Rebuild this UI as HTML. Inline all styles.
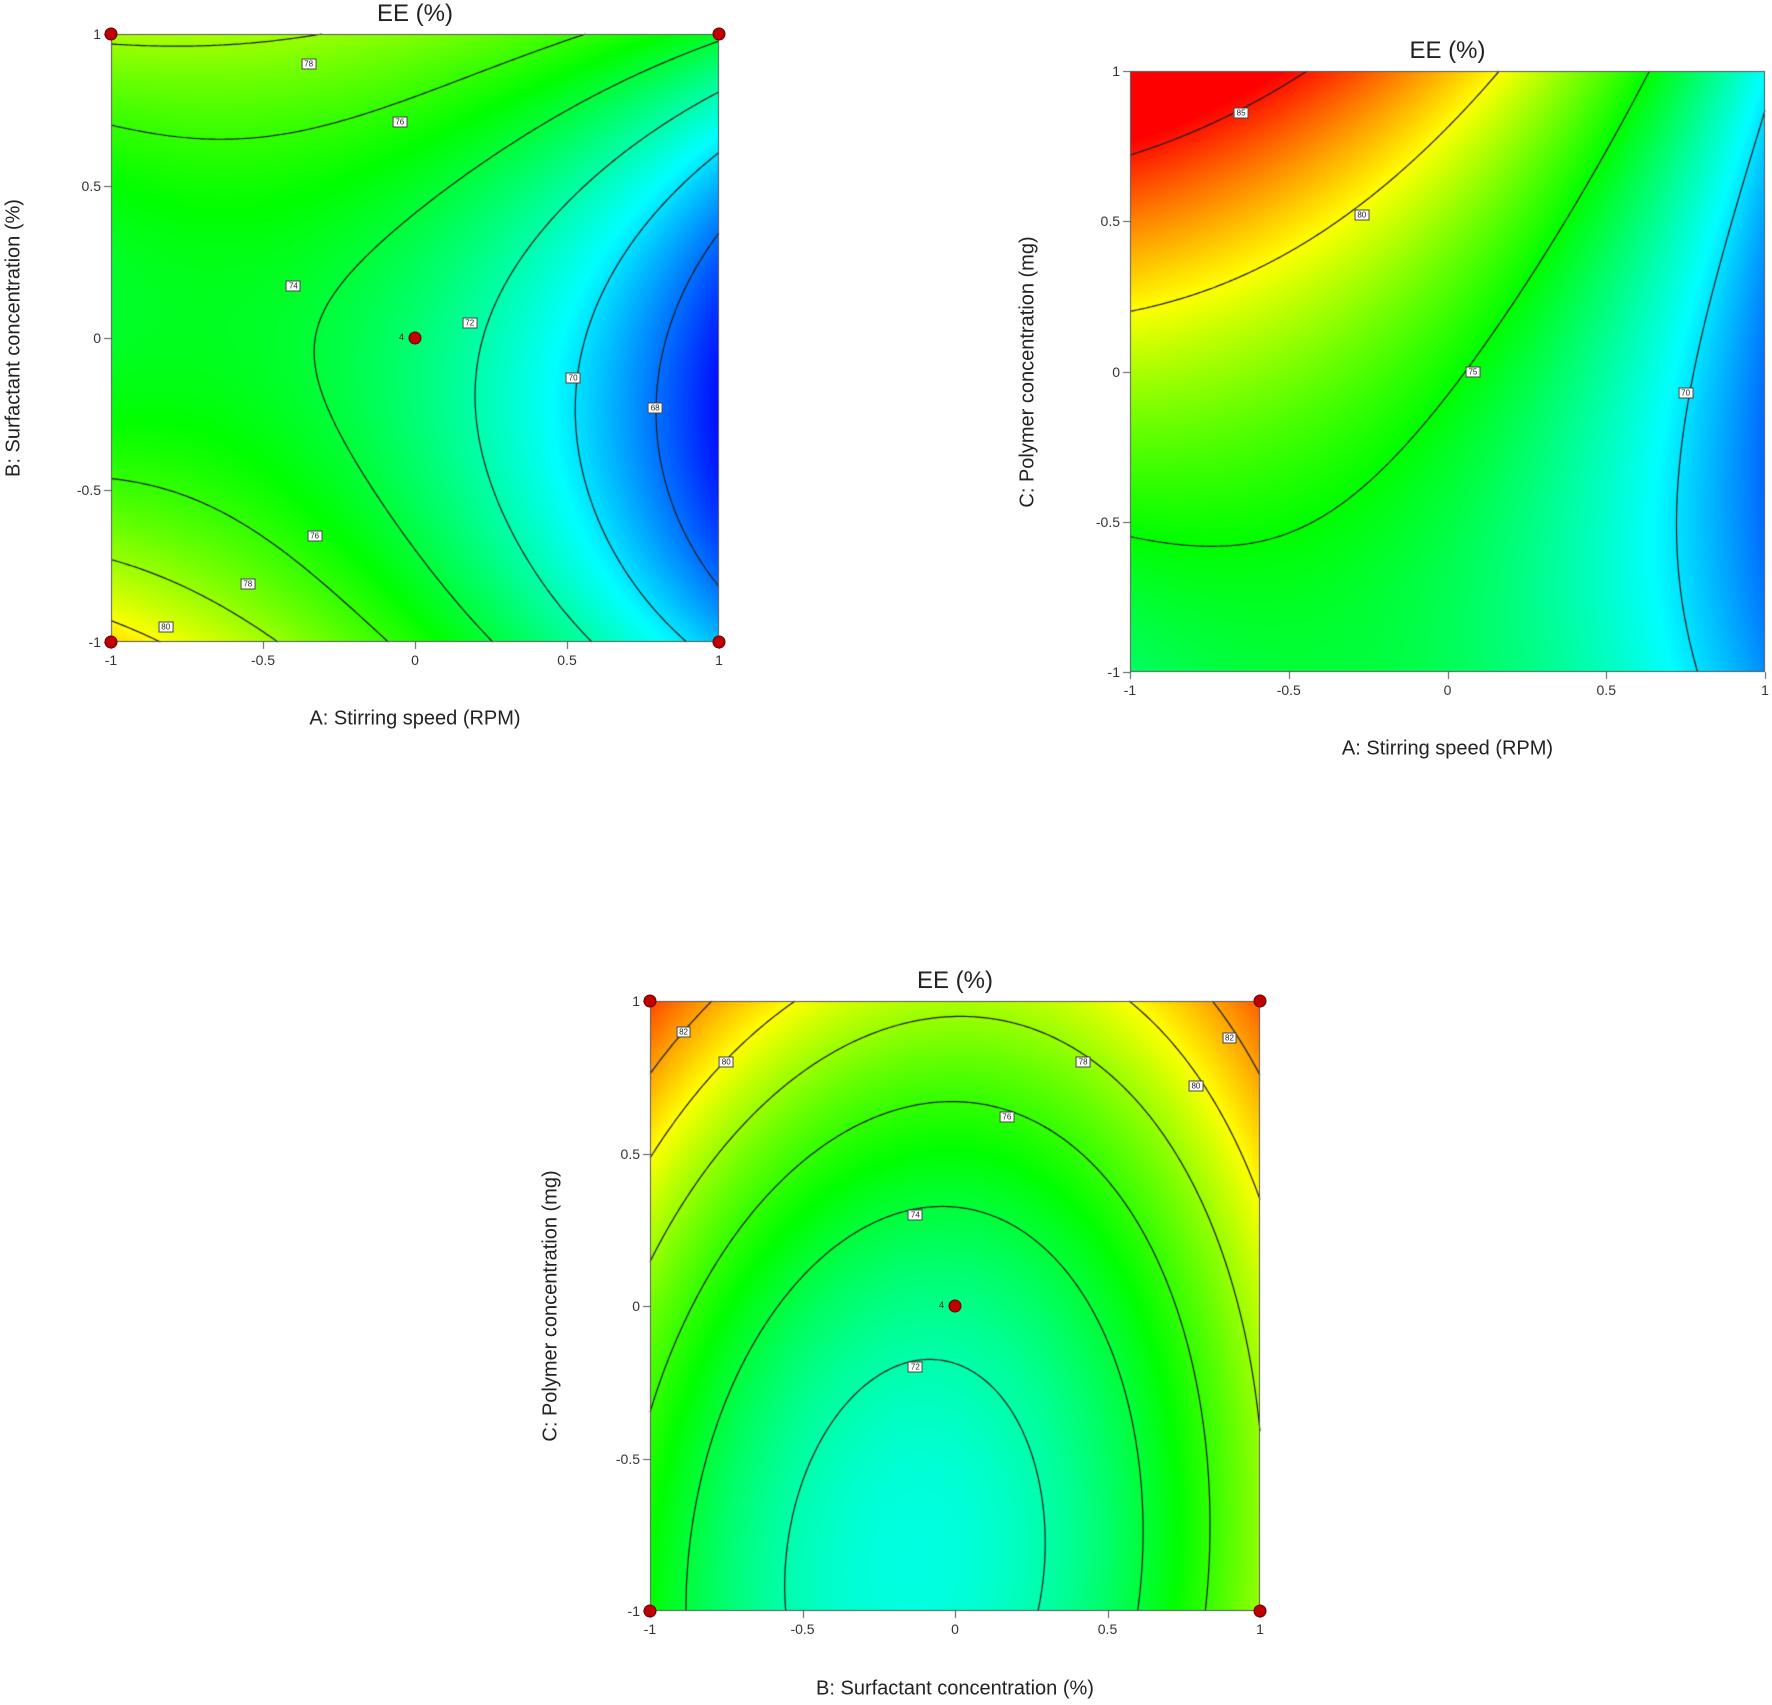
<!DOCTYPE html>
<html><head><meta charset="utf-8">
<style>
html,body{margin:0;padding:0;background:#fff;}
body{width:1772px;height:1705px;position:relative;overflow:hidden;font-family:"Liberation Sans",sans-serif;color:#222;}
canvas{position:absolute;left:0;top:0;}
.t{position:absolute;white-space:nowrap;}
.title{font-size:24px;transform:translate(-50%,-50%);}
.xl{font-size:20px;transform:translate(-50%,-50%);}
.yl{font-size:20px;transform:translate(-50%,-50%) rotate(-90deg);}
.tk{font-size:14px;color:#333;}
.lab{position:absolute;background:#fff;border:1px solid #444;font-size:8px;line-height:9px;padding:0 2px;transform:translate(-50%,-50%);}
.dot{position:absolute;width:11px;height:11px;border-radius:50%;background:#c00000;border:1px solid #600;transform:translate(-50%,-50%);}
</style></head><body>
<canvas id="c" width="1772" height="1705"></canvas>
<div id="o"></div>
<script>
function lag(v,a){return v[1]+(v[2]-v[0])/2*a+((v[2]+v[0])/2-v[1])*a*a;}
function f1(A,B){var c=lag([74.3,73,66.5],A),b1=lag([-1.25,1,2.5],A),b2=lag([5.25,3.5,5.3],A);return c+b1*B+b2*B*B;}
function f2(A,C){var c=lag([78.41,75.3,68],A),q=lag([7.48,4,1],A),r=lag([2.32,2.2,1.5],A);return c+q*C+r*C*C;}
function f3(B,C){var c=lag([77.3,72.6,78.8],B),q=lag([4.5,3.6,2.75],B),r=lag([2.2,2.2,1.95],B);return c+q*C+r*C*C;}
var stops=[[66,0,0,255],[70.5,0,255,255],[75,0,255,0],[80,255,255,0],[85.5,255,0,0]];
function col(v){
  if(v<=stops[0][0])return stops[0].slice(1);
  for(var i=1;i<stops.length;i++){if(v<=stops[i][0]){var a=stops[i-1],b=stops[i],t=(v-a[0])/(b[0]-a[0]);return [a[1]+(b[1]-a[1])*t,a[2]+(b[2]-a[2])*t,a[3]+(b[3]-a[3])*t];}}
  return stops[stops.length-1].slice(1);
}
var ctx=document.getElementById('c').getContext('2d');
var o=document.getElementById('o');
function add(cls,x,y,txt){var d=document.createElement('div');d.className=cls;d.style.left=x+'px';d.style.top=y+'px';d.textContent=txt;o.appendChild(d);return d;}
function plot(P){
  var x0=P.x0,x1=P.x1,y0=P.y0,y1=P.y1,W=x1-x0,H=y1-y0,f=P.f;
  var img=ctx.createImageData(W,H);
  for(var j=0;j<H;j++)for(var i=0;i<W;i++){
    var a=-1+2*(i+0.5)/W,b=1-2*(j+0.5)/H;var c=col(f(a,b));var k=(j*W+i)*4;
    img.data[k]=c[0];img.data[k+1]=c[1];img.data[k+2]=c[2];img.data[k+3]=255;}
  ctx.putImageData(img,x0,y0);
  var N=240;ctx.strokeStyle='#1a1a1a';ctx.lineWidth=1.2;ctx.beginPath();
  function X(a){return x0+(a+1)/2*W;} function Y(b){return y0+(1-b)/2*H;}
  P.levels.forEach(function(L){
    for(var j=0;j<N;j++)for(var i=0;i<N;i++){
      var a0=-1+2*i/N,a1=-1+2*(i+1)/N,b0=-1+2*j/N,b1=-1+2*(j+1)/N;
      var v=[f(a0,b0)-L,f(a1,b0)-L,f(a1,b1)-L,f(a0,b1)-L];
      var pts=[],cs=[[a0,b0],[a1,b0],[a1,b1],[a0,b1]];
      for(var e=0;e<4;e++){var p=v[e],q=v[(e+1)%4];if((p<0)!=(q<0)){var t=p/(p-q),A=cs[e],B=cs[(e+1)%4];pts.push([A[0]+(B[0]-A[0])*t,A[1]+(B[1]-A[1])*t]);}}
      for(var m=0;m+1<pts.length;m+=2){ctx.moveTo(X(pts[m][0]),Y(pts[m][1]));ctx.lineTo(X(pts[m+1][0]),Y(pts[m+1][1]));}
    }});
  ctx.stroke();
  ctx.strokeStyle='#555';ctx.lineWidth=1;ctx.strokeRect(x0+0.5,y0+0.5,W-1,H-1);
  ctx.beginPath();
  var tv=[-1,-0.5,0,0.5,1],tl=['-1','-0.5','0','0.5','1'];
  tv.forEach(function(t,k){var xx=Math.round(X(t))+0.5;ctx.moveTo(xx,y1);ctx.lineTo(xx,y1+7);
    var yy=Math.round(Y(t))+0.5;ctx.moveTo(x0,yy);ctx.lineTo(x0-7,yy);
    var d=add('t tk',X(t),y1+10,tl[k]);d.style.transform='translateX(-50%)';
    var d2=add('t tk',x0-10,Y(t),tl[k]);d2.style.transform='translate(-100%,-50%)';});
  ctx.stroke();
  add('t title',(x0+x1)/2,P.ty,'EE (%)');
  add('t xl',(x0+x1)/2,P.xly,P.xl);
  add('t yl',P.ylx,(y0+y1)/2,P.yl);
  P.labs.forEach(function(l){add('lab',X(l[0]),Y(l[1]),l[2]);});
  P.dots.forEach(function(d){add('dot',X(d[0]),Y(d[1]),'');});
  if(P.center){var d=add('t',X(0)-16,Y(0)-6,'4');d.style.fontSize='9px';}
}
var corners=[[-1,1],[1,1],[-1,-1],[1,-1],[0,0]];
plot({x0:111,x1:719,y0:34,y1:642,f:f1,levels:[68,70,72,74,76,78,80],ty:14,xly:719,ylx:14,
  xl:'A: Stirring speed (RPM)',yl:'B: Surfactant concentration (%)',
  labs:[[-0.35,0.9,'78'],[-0.05,0.71,'76'],[-0.4,0.17,'74'],[0.18,0.05,'72'],[0.52,-0.13,'70'],[0.79,-0.23,'68'],[-0.33,-0.65,'76'],[-0.55,-0.81,'78'],[-0.82,-0.95,'80']],
  dots:corners,center:true});
plot({x0:1130,x1:1765,y0:71,y1:672,f:f2,levels:[70,75,80,85],ty:51,xly:749,ylx:1028,
  xl:'A: Stirring speed (RPM)',yl:'C: Polymer concentration  (mg)',
  labs:[[-0.65,0.86,'85'],[-0.27,0.52,'80'],[0.08,0,'75'],[0.75,-0.07,'70']],dots:[],center:false});
plot({x0:650,x1:1260,y0:1001,y1:1611,f:f3,levels:[72,74,76,78,80,82],ty:981,xly:1689,ylx:551,
  xl:'B: Surfactant concentration (%)',yl:'C: Polymer concentration  (mg)',
  labs:[[-0.89,0.9,'82'],[-0.75,0.8,'80'],[0.42,0.8,'78'],[0.17,0.62,'76'],[-0.13,0.3,'74'],[-0.13,-0.2,'72'],[0.9,0.88,'82'],[0.79,0.72,'80']],
  dots:corners,center:true});
</script>
</body></html>
